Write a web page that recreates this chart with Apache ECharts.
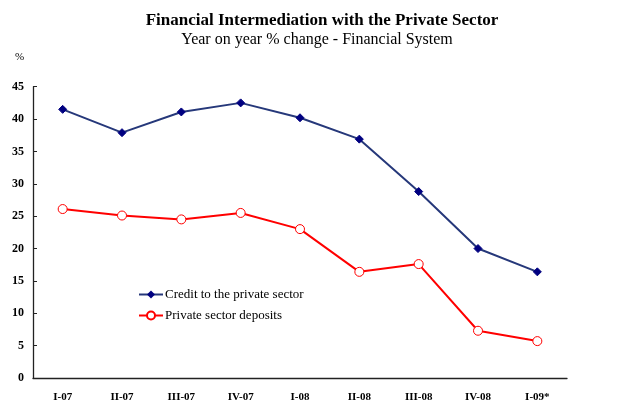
<!DOCTYPE html>
<html><head><meta charset="utf-8">
<script src="https://cdn.jsdelivr.net/npm/echarts@6/dist/echarts.min.js"></script>
<style>html,body{margin:0;padding:0;background:#fff}#c{width:639px;height:406px}</style>
</head><body><div id="c"></div>
<script>
var categories = ['I-07','II-07','III-07','IV-07','I-08','II-08','III-08','IV-08','I-09*'];
var creditValues = [41.5, 37.9, 41.1, 42.5, 40.2, 36.9, 28.8, 20.0, 16.4];
var depositValues = [26.1, 25.1, 24.5, 25.5, 23.0, 16.4, 17.6, 7.3, 5.7];
var yTicks = [0, 5, 10, 15, 20, 25, 30, 35, 40, 45];

var F = '"Liberation Serif", "DejaVu Serif", serif';
var chart = echarts.init(document.getElementById('c'), null, {renderer: 'canvas'});
chart.setOption({
  animation: false,
  backgroundColor: '#fff',
  title: [
    {text: 'Financial Intermediation with the Private Sector', left: 317, top: 7, textAlign: 'center',
     textStyle: {fontFamily: F, fontSize: 17, fontWeight: 'bold', color: '#000'}},
    {text: 'Year on year % change - Financial System', left: 312, top: 27, textAlign: 'center',
     textStyle: {fontFamily: F, fontSize: 16, fontWeight: 'normal', color: '#000'}},
    {text: '%', left: 10, top: 47, textStyle: {fontFamily: F, fontSize: 11, fontWeight: 'normal', color: '#000'}}
  ],
  legend: {
    orient: 'vertical', left: 133, top: 283, itemGap: 8, itemWidth: 24, itemHeight: 10,
    textStyle: {fontFamily: F, fontSize: 13, color: '#000', padding: [0, 0, 0, -3]},
    data: ['Credit to the private sector', 'Private sector deposits']
  },
  grid: {left: 33, right: 72, top: 86.7, bottom: 28, containLabel: false},
  xAxis: {
    type: 'category', data: categories, boundaryGap: true,
    axisLine: {lineStyle: {color: '#222', width: 1.3}},
    axisTick: {inside: true, length: 4, lineStyle: {color: '#222'}},
    axisLabel: {fontFamily: F, fontSize: 11, fontWeight: 'bold', color: '#000', margin: 14}
  },
  yAxis: {
    type: 'value', min: 0, max: 45, interval: 5,
    axisLine: {show: true, lineStyle: {color: '#222', width: 1.3}},
    axisTick: {show: true, inside: true, length: 4, lineStyle: {color: '#222'}},
    splitLine: {show: false},
    axisLabel: {fontFamily: F, fontSize: 12, fontWeight: 'bold', color: '#000', margin: 9}
  },
  series: [
    {name: 'Credit to the private sector', type: 'line', data: creditValues,
     symbol: 'diamond', symbolSize: 8,
     lineStyle: {color: '#26387A', width: 2},
     itemStyle: {color: '#000080', borderColor: '#000080'}},
    {name: 'Private sector deposits', type: 'line', data: depositValues,
     symbol: 'circle', symbolSize: 9,
     lineStyle: {color: '#FF0000', width: 2},
     itemStyle: {color: '#fff', borderColor: '#FF0000', borderWidth: 1}}
  ]
});
</script></body></html>
